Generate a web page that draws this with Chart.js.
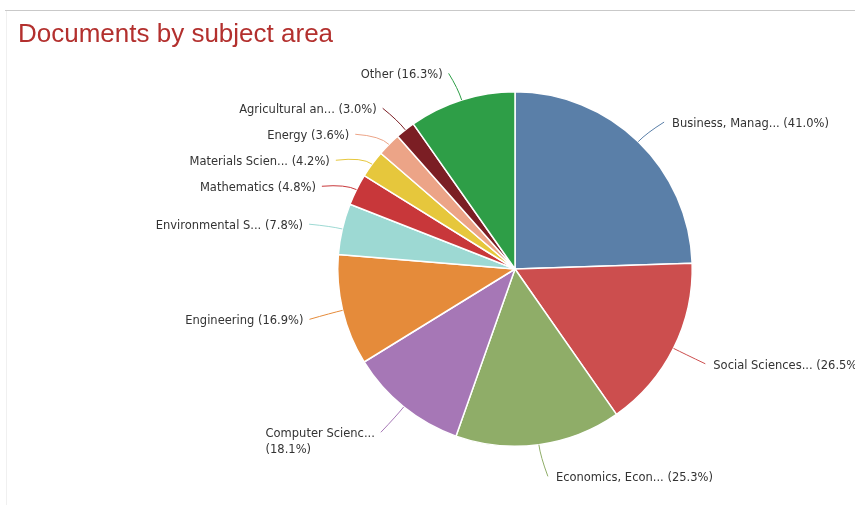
<!DOCTYPE html>
<html lang="en">
<head>
    <meta charset="UTF-8">
    <title>Documents by subject area</title>
    <script src="https://cdn.jsdelivr.net/npm/chart.js"></script>
    <style>
        body { margin: 0; background: #fff; }
        #frame { position: relative; width: 855px; height: 505px; overflow: hidden; }
        #topLine { position: absolute; left: 5px; right: 0; top: 10px; height: 1px; background: #c9c9c9; }
        #sideLine { position: absolute; left: 6px; top: 11px; bottom: 0; width: 1px; background: #f0f0f0; }
        #title { position: absolute; left: 18px; top: 18px; font: 26px "Liberation Sans", Arial, sans-serif; color: #b3302e; }
        canvas { position: absolute; left: 0; top: 0; }
    </style>
</head>
<body>
    <div id="frame">
        <div id="topLine"></div>
        <div id="sideLine"></div>
        <canvas id="subjectChart" width="855" height="505"></canvas>
        <div id="title">Documents by subject area</div>
    </div>

    <script>
        const subjects = ['Business, Manag...', 'Social Sciences...', 'Economics, Econ...', 'Computer Scienc...',
            'Engineering', 'Environmental S...', 'Mathematics', 'Materials Scien...', 'Energy',
            'Agricultural an...', 'Other'];
        const shares = [41.0, 26.5, 25.3, 18.1, 16.9, 7.8, 4.8, 4.2, 3.6, 3.0, 16.3];
        const sliceColors = ['#5a7fa8', '#cc4e4e', '#8fad68', '#a677b6', '#e58b3a', '#9dd9d3',
            '#c8373a', '#e6c73c', '#eca487', '#7b1e24', '#2e9e47'];
        // labels that break the percentage onto a second line
        const wrapPercent = [false, false, false, true, false, false, false, false, false, false, false];

        // outside labels with connector lines
        const outsideLabels = {
            id: 'outsideLabels',
            afterDatasetsDraw(chart) {
                const ctx = chart.ctx;
                const arcs = chart.getDatasetMeta(0).data;
                const dist = 30, gap = 26;
                const items = arcs.map((arc, i) => {
                    const p = arc.getProps(['x', 'y', 'startAngle', 'endAngle', 'outerRadius'], true);
                    const mid = (p.startAngle + p.endAngle) / 2;
                    const R = p.outerRadius + dist;
                    return {
                        i, mid, cx: p.x, cy: p.y, r: p.outerRadius, R,
                        right: Math.cos(mid) >= 0,
                        y: p.y + R * Math.sin(mid)
                    };
                });
                [true, false].forEach(side => {
                    const group = items.filter(it => it.right === side).sort((a, b) => a.y - b.y);
                    for (let k = 1; k < group.length; k++) {
                        if (group[k].y < group[k - 1].y + gap) group[k].y = group[k - 1].y + gap;
                    }
                });

                ctx.save();
                ctx.font = '11.5px "DejaVu Sans", Verdana, sans-serif';
                ctx.textBaseline = 'middle';
                items.forEach(it => {
                    const dy = Math.max(-it.R, Math.min(it.R, it.y - it.cy));
                    const dx = Math.sqrt(it.R * it.R - dy * dy);
                    const x = it.right ? it.cx + dx : it.cx - dx;
                    const ty = it.y + 4;
                    const ex = it.cx + it.r * Math.cos(it.mid);
                    const ey = it.cy + it.r * Math.sin(it.mid);
                    const bx = it.cx + (it.r + 12) * Math.cos(it.mid);
                    const by = it.cy + (it.r + 12) * Math.sin(it.mid);

                    ctx.strokeStyle = sliceColors[it.i];
                    ctx.lineWidth = 1;
                    ctx.beginPath();
                    ctx.moveTo(ex, ey);
                    ctx.quadraticCurveTo(bx, by, it.right ? x + 5 : x - 4, ty - 2);
                    ctx.stroke();

                    const pct = '(' + shares[it.i].toFixed(1) + '%)';
                    const lines = wrapPercent[it.i] ? [subjects[it.i], pct] : [subjects[it.i] + ' ' + pct];
                    const w = Math.max(...lines.map(l => ctx.measureText(l).width));
                    const left = it.right ? x + 13 : x - 10 - w;
                    ctx.fillStyle = '#333333';
                    ctx.textAlign = 'left';
                    lines.forEach((l, n) => ctx.fillText(l, left, ty + n * 16));
                });
                ctx.restore();
            }
        };

        new Chart(document.getElementById('subjectChart'), {
            type: 'pie',
            data: {
                labels: subjects,
                datasets: [{
                    data: shares,
                    backgroundColor: sliceColors,
                    borderColor: '#ffffff',
                    borderWidth: 1.5
                }]
            },
            options: {
                responsive: false,
                animation: false,
                layout: { padding: { left: 337, right: 162, top: 91, bottom: 58 } },
                plugins: {
                    legend: { display: false },
                    tooltip: { enabled: false }
                }
            },
            plugins: [outsideLabels]
        });
    </script>
</body>
</html>
